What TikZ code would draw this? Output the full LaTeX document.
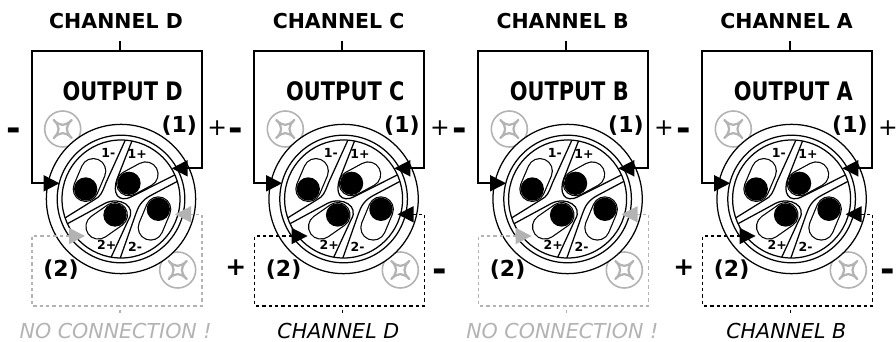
\documentclass[tikz,border=0pt]{standalone}
\usepackage{fontspec}
\setmainfont{DejaVu Sans}
\newfontfamily\outfont[FakeStretch=.82]{DejaVu Sans}
\usetikzlibrary{arrows.meta}
\definecolor{grayc}{HTML}{B3B3B3}
\tikzset{
  Tri/.tip={Triangle[length=16pt,width=16pt]},
  wire/.style={line width=1.9pt,draw=black},
  dwire/.style={line width=1.6pt,dash pattern=on 3.4pt off 3pt},
  thin ring/.style={circle,draw=black,line width=1.25pt,inner sep=0pt,fill=white},
  screwc/.style={circle,draw=grayc,line width=1.6pt,inner sep=0pt,minimum size=36pt},
  starline/.style={draw=grayc,line width=2.2pt,line join=round},
  sector/.style={draw=black,line width=1.25pt},
  chan/.style={font=\fontsize{20.5}{20.5}\selectfont\bfseries},
  outp/.style={font=\outfont\fontsize{25.5}{25.5}\selectfont\bfseries},
  num/.style={font=\fontsize{22}{22}\selectfont\bfseries},
  pinl/.style={font=\fontsize{12.5}{12.5}\selectfont\bfseries,inner sep=0pt},
  lowt/.style={font=\fontsize{20.6}{20.6}\selectfont\itshape,inner sep=0pt},
  plusr/.style={font=\fontsize{23.5}{23.5}\selectfont},
  plusb/.style={font=\fontsize{25}{25}\selectfont\bfseries},
  minusb/.style={font=\fontsize{35}{35}\selectfont\bfseries},
}
\newcommand{\starshape}{%
  (9,-9) .. controls (2.5,-2.5) and (2.5,2.5) .. (9,9)
  .. controls (2.5,2.5) and (-2.5,2.5) .. (-9,9)
  .. controls (-2.5,2.5) and (-2.5,-2.5) .. (-9,-9)
  .. controls (-2.5,-2.5) and (2.5,-2.5) .. cycle}
\begin{document}
\begin{tikzpicture}[x=1pt,y=-1pt]
\useasboundingbox (0,0) rectangle (896,342);
\foreach \i/\off/\ch/\lowtext/\dcol/\sg in {
  D/0/CHANNEL D/NO CONNECTION !/grayc/0,
  C/222.6/CHANNEL C/CHANNEL D/black/1,
  B/446.6/CHANNEL B/NO CONNECTION !/grayc/0,
  A/670.6/CHANNEL A/CHANNEL B/black/1}{
\begin{scope}[shift={(\off,0)}]
  % labels
  \node[chan] (chan\i) at (116,21) {\ch};
  \node[outp] (out\i) at (122.7,91.5) {OUTPUT \i};
  \node[lowt,text=\dcol] (low\i) at (115.7,331) {\lowtext};
  % free connector ends
  \coordinate (stubT\i) at (119.7,41);
  \coordinate (boxT\i) at (119.7,51);
  \coordinate (boxB\i) at (119.7,305.7);
  \coordinate (stubB\i) at (119.7,313);
  \coordinate (tl\i) at (31.7,51);
  \coordinate (tr\i) at (201.7,51);
  \coordinate (bl\i) at (31.7,305.7);
  \coordinate (br\i) at (201.7,305.7);
  \coordinate (l1\i) at (31.7,183.3);
  \coordinate (r1\i) at (201.7,168.3);
  \coordinate (l2\i) at (31.7,236);
  \coordinate (r2\i) at (201.7,214.3);
  \coordinate (tipL1\i) at (59.5,183.3);
  \coordinate (tipR1\i) at (171.7,168.3);
  \coordinate (tipL2\i) at (85,236);
  \coordinate (tipR2\i) at (175,214.3);
  % screws
  \node[screwc] (sa\i) at (62.7,129) {};
  \node[screwc] (sb\i) at (177.7,270) {};
  \begin{scope}[shift={(62.7,129)}]
    \draw[starline] \starshape;
  \end{scope}
  \begin{scope}[shift={(177.7,270)}]
    \draw[starline] \starshape;
  \end{scope}
  % dashed wire under the connector
  \draw[dwire,draw=\dcol] (stubB\i) -- (boxB\i);
  % connector body
  \node[thin ring,minimum size=149.3pt] (ringA\i) at (121,199) {};
  \node[thin ring,minimum size=127.6pt] (ringB\i) at (121,199) {};
  \node[thin ring,minimum size=118pt] (ringC\i) at (121,199) {};
  \begin{scope}[shift={(30,110)},x=.3333pt,y=-.3333pt]
    \begin{scope}
      \clip (273,267) circle[radius=177];
      % pin slots
      \foreach \ax/\ay/\bx/\by in {167/237/190/183,297/220/347/193,255/315/205/350,385/298/362/353}{
        \draw[line width=26pt,black,line cap=round] (\ax,\ay) -- (\bx,\by);
        \draw[line width=23.6pt,white,line cap=round] (\ax,\ay) -- (\bx,\by);
        \fill[black] (\ax,\ay) circle[radius=35];
      }
      % sectors
      \draw[sector] (287,88) -- (228,218) .. controls (215,252) and (210,260) .. (195,268) -- (100,327);
      \draw[sector] (307,90) -- (262,205) .. controls (245,250) and (265,280) .. (305,260) -- (440,192);
      \draw[sector] (107,344) -- (225,280) .. controls (270,258) and (320,290) .. (296,328) -- (241,447);
      \draw[sector] (448,211) -- (365,255) .. controls (335,270) and (325,290) .. (318,310) -- (268,452);
    \end{scope}
  \end{scope}
  % pin labels
  \node[pinl] (p1m\i) at (108.3,152.7) {1-};
  \node[pinl] (p1p\i) at (137.3,154) {1+};
  \node[pinl] (p2p\i) at (106.7,245) {2+};
  \node[pinl] (p2m\i) at (135,247.3) {2-};
  % wires
  \draw[wire] (stubT\i) -- (boxT\i);
  \draw[wire,line join=miter,{Tri}-{Tri}] (tipL1\i) -- (l1\i) -- (tl\i) -- (tr\i) -- (r1\i) -- (tipR1\i);
  \draw[dwire,draw=\dcol,fill=none,{Tri[fill=\dcol]}-{Tri[fill=\dcol]}] (tipL2\i) -- (l2\i) -- (bl\i) -- (br\i) -- (r2\i) -- (tipR2\i);
  % numbers and polarity
  \node[num] (n1\i) at (179.3,126) {(1)};
  \node[num] (n2\i) at (61,269.3) {(2)};
  \node[minusb] (mt\i) at (13.5,134) {-};
  \node[plusr] (pt\i) at (217.3,128) {+};
  \ifnum\sg=1
    \node[plusb] (pb\i) at (13.3,268) {+};
    \node[minusb] (mb\i) at (217.5,275.5) {-};
  \fi
\end{scope}
}
\end{tikzpicture}
\end{document}
